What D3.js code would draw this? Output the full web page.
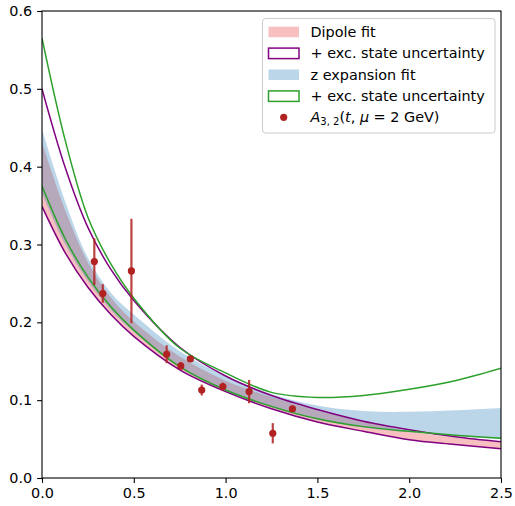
<!DOCTYPE html>
<html><head><meta charset="utf-8">
<script src="https://cdn.jsdelivr.net/npm/d3@7"></script>
<style>body{margin:0;background:#fff}svg{display:block}text{font-family:"DejaVu Sans",sans-serif}</style>
</head><body><svg id="c" width="515" height="506"></svg>
<script>
// sample momentum transfers t (GeV^2) for the fit bands
const tGrid = [0, 0.125, 0.25, 0.375, 0.5, 0.75, 1.0, 1.25, 1.5, 1.75, 2.0, 2.25, 2.5];
// dipole fit band
const dipoleLow  = [0.349, 0.290, 0.245, 0.210, 0.182, 0.139, 0.111, 0.089, 0.072, 0.060, 0.049, 0.043, 0.0375];
const dipoleHigh = [0.431, 0.345, 0.277, 0.232, 0.201, 0.156, 0.125, 0.104, 0.087, 0.073, 0.060, 0.052, 0.046];
// dipole + excited state uncertainty
const dipoleExcLow  = [0.349, 0.290, 0.245, 0.210, 0.182, 0.139, 0.111, 0.089, 0.072, 0.060, 0.049, 0.043, 0.0375];
const dipoleExcHigh = [0.500, 0.400, 0.322, 0.268, 0.228, 0.168, 0.131, 0.106, 0.088, 0.073, 0.062, 0.053, 0.0465];
// z expansion fit band
const zLow  = [0.366, 0.301, 0.253, 0.216, 0.188, 0.142, 0.112, 0.091, 0.075, 0.065, 0.059, 0.054, 0.050];
const zHigh = [0.448, 0.356, 0.283, 0.238, 0.210, 0.163, 0.131, 0.108, 0.093, 0.086, 0.085, 0.087, 0.090];
// z expansion + excited state uncertainty
const zExcLow  = [0.375, 0.308, 0.258, 0.220, 0.190, 0.143, 0.113, 0.092, 0.076, 0.066, 0.060, 0.055, 0.051];
const zExcHigh = [0.565, 0.435, 0.335, 0.275, 0.231, 0.167, 0.135, 0.110, 0.1035, 0.106, 0.114, 0.125, 0.141];
// lattice data A_{3,2}(t, mu = 2 GeV)
const ptT   = [0.285, 0.331, 0.487, 0.679, 0.756, 0.808, 0.870, 0.985, 1.128, 1.257, 1.364];
const ptVal = [0.278, 0.237, 0.266, 0.159, 0.144, 0.153, 0.113, 0.1175, 0.111, 0.0575, 0.0888];
const ptErr = [0.030, 0.012, 0.067, 0.0115, 0.005, 0.004, 0.007, 0.005, 0.015, 0.013, 0.004];
// ticks
const xTicks = [0, 0.5, 1.0, 1.5, 2.0, 2.5];
const yTicks = [0, 0.1, 0.2, 0.3, 0.4, 0.5, 0.6];
const legendLabels = ["Dipole fit", "+ exc. state uncertainty", "z expansion fit", "+ exc. state uncertainty"];

const svg = d3.select("#c");
const L = 42, R = 501, T = 11, B = 478;
const x = d3.scaleLinear().domain([0, 2.5]).range([L, R]);
const y = d3.scaleLinear().domain([0, 0.6]).range([B, T]);

svg.append("defs").append("clipPath").attr("id", "clip")
  .append("rect").attr("x", L).attr("y", T).attr("width", R - L).attr("height", B - T);
const g = svg.append("g").attr("clip-path", "url(#clip)");

const band = (lo, hi) => tGrid.map((t, i) => ({t, lo: lo[i], hi: hi[i]}));
const area = d3.area().x(d => x(d.t)).y0(d => y(d.lo)).y1(d => y(d.hi)).curve(d3.curveCatmullRom);
const line = d3.line().x(d => x(d.t)).y(d => y(d.v)).curve(d3.curveCatmullRom);
const ser = arr => tGrid.map((t, i) => ({t, v: arr[i]}));

const PINK = "#f08080", BLUE = "#1f77b4", PURPLE = "#800080", GREEN = "#2ca02c", RED = "#b22222";

g.append("path").attr("d", area(band(dipoleLow, dipoleHigh))).attr("fill", PINK).attr("fill-opacity", 0.5);
g.append("path").attr("d", area(band(zLow, zHigh))).attr("fill", BLUE).attr("fill-opacity", 0.3);
[dipoleExcLow, dipoleExcHigh].forEach(a => g.append("path").attr("d", line(ser(a)))
  .attr("fill", "none").attr("stroke", PURPLE).attr("stroke-width", 1.5));
[zExcLow, zExcHigh].forEach(a => g.append("path").attr("d", line(ser(a)))
  .attr("fill", "none").attr("stroke", GREEN).attr("stroke-width", 1.5));

// data points
const pts = ptT.map((t, i) => ({t, v: ptVal[i], e: ptErr[i]}));
g.selectAll(".eb").data(pts).enter().append("line")
  .attr("x1", d => x(d.t)).attr("x2", d => x(d.t))
  .attr("y1", d => y(d.v - d.e)).attr("y2", d => y(d.v + d.e))
  .attr("stroke", RED).attr("stroke-width", 2.2).attr("stroke-opacity", 0.85);
g.selectAll(".pt").data(pts).enter().append("circle")
  .attr("cx", d => x(d.t)).attr("cy", d => y(d.v)).attr("r", 3.6).attr("fill", RED);

// axes
const fs = "14.4px";
const xa = svg.append("g").attr("transform", `translate(0,${B})`)
  .call(d3.axisBottom(x).tickValues(xTicks).tickFormat(d3.format(".1f")).tickSizeInner(4.9).tickSizeOuter(0).tickPadding(4.9));
const ya = svg.append("g").attr("transform", `translate(${L},0)`)
  .call(d3.axisLeft(y).tickValues(yTicks).tickFormat(d3.format(".1f")).tickSizeInner(4.9).tickSizeOuter(0).tickPadding(4.9));
[xa, ya].forEach(a => {
  a.select(".domain").remove();
  a.selectAll("text").attr("font-family", "DejaVu Sans").attr("font-size", fs).attr("fill", "#000");
  a.selectAll("line").attr("stroke", "#000").attr("stroke-width", 1.1);
});
svg.append("rect").attr("x", L).attr("y", T).attr("width", R - L).attr("height", B - T)
  .attr("fill", "none").attr("stroke", "#000").attr("stroke-width", 1.1);

// legend
const lg = svg.append("g");
lg.append("rect").attr("x", 262.5).attr("y", 18.5).attr("width", 232.5).attr("height", 114.5)
  .attr("rx", 3).attr("fill", "#fff").attr("fill-opacity", 0.8).attr("stroke", "#cccccc").attr("stroke-width", 1);
const rowY = i => 31.7 + i * 21.4;
const sw = [
  {fill: PINK, fo: 0.5, stroke: "none"},
  {fill: "#fff", fo: 1, stroke: PURPLE},
  {fill: BLUE, fo: 0.3, stroke: "none"},
  {fill: "#fff", fo: 1, stroke: GREEN}
];
sw.forEach((s, i) => {
  lg.append("rect").attr("x", 268.5).attr("y", rowY(i) - 5).attr("width", 30.5).attr("height", 10.5)
    .attr("fill", s.fill).attr("fill-opacity", s.fo).attr("stroke", s.stroke).attr("stroke-width", 1.5);
  lg.append("text").attr("x", 310.5).attr("y", rowY(i) + 5).attr("font-size", fs).text(legendLabels[i]);
});
lg.append("circle").attr("cx", 283.7).attr("cy", rowY(4)).attr("r", 3.6).attr("fill", RED);
const lt = lg.append("text").attr("x", 310.5).attr("y", rowY(4) + 5).attr("font-size", fs);
lt.append("tspan").attr("font-style", "italic").text("A");
lt.append("tspan").attr("font-size", "10px").attr("dy", 3).text("3, 2");
lt.append("tspan").attr("dy", -3).text("(");
lt.append("tspan").attr("font-style", "italic").text("t");
lt.append("tspan").text(", ");
lt.append("tspan").attr("font-style", "italic").text("μ");
lt.append("tspan").text(" = 2 GeV)");
</script></body></html>
